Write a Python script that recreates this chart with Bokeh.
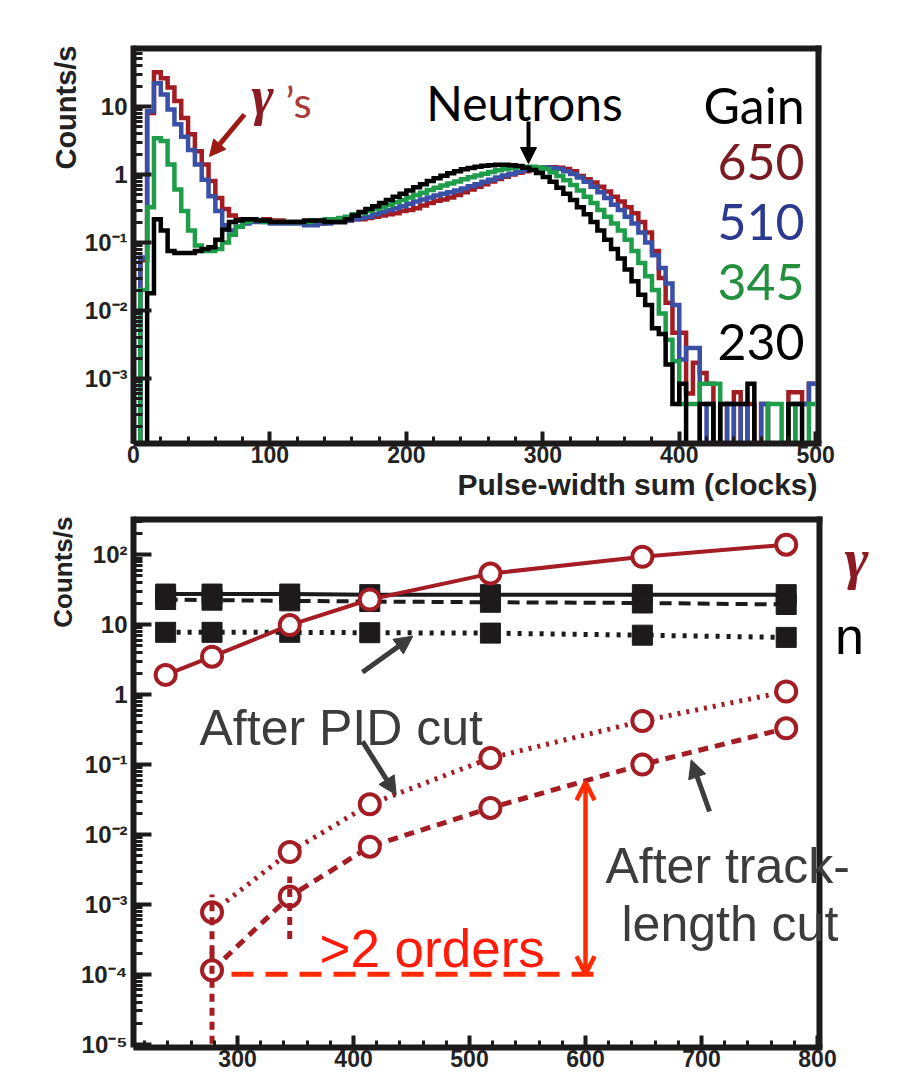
import numpy as np
from bokeh.plotting import figure
from bokeh.models import (Range1d, FixedTicker, SingleIntervalTicker, CustomJSTickFormatter,
                          Title, Arrow, NormalHead, OpenHead)
from bokeh.layouts import column
from bokeh.core.properties import value
from bokeh.embed import file_html
from bokeh.resources import INLINE

# ---------------- top panel data: pulse-width sum histograms (5-clock bins) ----------------
bin_width = 5
gains = ["650", "510", "345", "230"]
counts_650 = [0, 0.055, 8, 32, 26, 19, 12, 6.8, 3.9, 2.2,
              1.4, 0.8, 0.45, 0.31, 0.25, 0.22, 0.21, 0.21, 0.21, 0.22,
              0.21, 0.21, 0.2, 0.2, 0.2, 0.19, 0.19, 0.19, 0.2, 0.2,
              0.2, 0.21, 0.22, 0.22, 0.23, 0.24, 0.25, 0.26, 0.27, 0.29,
              0.3, 0.32, 0.35, 0.38, 0.41, 0.43, 0.46, 0.5, 0.55, 0.6,
              0.66, 0.72, 0.79, 0.86, 0.93, 1.0, 1.06, 1.12, 1.17, 1.22,
              1.26, 1.28, 1.26, 1.2, 1.12, 0.95, 0.85, 0.76, 0.66, 0.56,
              0.47, 0.4, 0.33, 0.27, 0.2, 0.14, 0.075, 0.03, 0.013, 0.0047,
              0.0047, 0.0006, 0.0017, 0.0012, 0.00084, 0, 0.00042, 0, 0.00063, 0,
              0.00042, 0, 0.00042, 0, 0, 0, 0.00063, 0.00063, 0.00042, 0.00084]
counts_510 = [0, 0.06, 8.5, 22, 15, 9, 5.5, 3.6, 2.3, 1.4,
              0.84, 0.48, 0.29, 0.18, 0.15, 0.17, 0.19, 0.2, 0.2, 0.2,
              0.19, 0.19, 0.19, 0.19, 0.19, 0.18, 0.18, 0.19, 0.19, 0.2,
              0.2, 0.21, 0.22, 0.23, 0.24, 0.26, 0.28, 0.3, 0.32, 0.34,
              0.37, 0.4, 0.43, 0.46, 0.49, 0.52, 0.55, 0.58, 0.62, 0.67,
              0.72, 0.78, 0.84, 0.9, 0.97, 1.03, 1.1, 1.16, 1.21, 1.25,
              1.27, 1.25, 1.2, 1.12, 1.02, 0.9, 0.78, 0.66, 0.55, 0.45,
              0.36, 0.3, 0.24, 0.19, 0.14, 0.1, 0.065, 0.042, 0.025, 0.012,
              0.0019, 0.0028, 0.0028, 0, 0.00042, 0, 0, 0.00042, 0, 0.00042,
              0, 0, 0.00042, 0, 0, 0, 0, 0.00042, 0.00042, 0.00084]
counts_345 = [0, 0.02, 0.33, 3.4, 3.1, 1.4, 0.6, 0.29, 0.15, 0.09,
              0.075, 0.075, 0.08, 0.1, 0.13, 0.17, 0.2, 0.21, 0.21, 0.2,
              0.2, 0.2, 0.2, 0.2, 0.2, 0.2, 0.21, 0.21, 0.22, 0.22,
              0.23, 0.24, 0.26, 0.27, 0.29, 0.31, 0.33, 0.36, 0.39, 0.42,
              0.46, 0.5, 0.54, 0.59, 0.64, 0.69, 0.74, 0.79, 0.85, 0.91,
              0.97, 1.03, 1.09, 1.15, 1.2, 1.25, 1.28, 1.3, 1.3, 1.27,
              1.2, 1.08, 0.95, 0.82, 0.7, 0.58, 0.47, 0.38, 0.3, 0.24,
              0.19, 0.15, 0.11, 0.075, 0.05, 0.032, 0.02, 0.009, 0.0037, 0.0018,
              0.00042, 0.00042, 0.00042, 0.00084, 0.00084, 0.00084, 0, 0, 0, 0,
              0, 0, 0, 0.00042, 0.00042, 0, 0.00042, 0, 0, 0.00042]
counts_230 = [0, 0, 0.018, 0.22, 0.15, 0.075, 0.07, 0.07, 0.07, 0.075,
              0.08, 0.085, 0.11, 0.155, 0.2, 0.21, 0.22, 0.22, 0.21, 0.21,
              0.2, 0.2, 0.2, 0.2, 0.2, 0.21, 0.21, 0.21, 0.2, 0.2,
              0.2, 0.22, 0.25, 0.28, 0.31, 0.34, 0.38, 0.42, 0.47, 0.52,
              0.58, 0.65, 0.72, 0.8, 0.88, 0.96, 1.04, 1.12, 1.19, 1.25,
              1.3, 1.34, 1.37, 1.39, 1.39, 1.37, 1.33, 1.26, 1.16, 1.05,
              0.92, 0.78, 0.64, 0.52, 0.42, 0.33, 0.26, 0.2, 0.15, 0.11,
              0.08, 0.058, 0.04, 0.027, 0.017, 0.012, 0.0055, 0.0045, 0.0016, 0.00042,
              0.00084, 0, 0, 0.00042, 0.00042, 0, 0.00042, 0.00042, 0.00042, 0.00042,
              0.00084, 0, 0, 0, 0, 0, 0.00042, 0.00042, 0, 0]
top_y_ticks = [1e-3, 1e-2, 1e-1, 1, 10]
top_y_labels = ["10\u207b\u00b3", "10\u207b\u00b2", "10\u207b\u00b9", "1", "10"]

# ---------------- bottom panel data: rates vs effective gas gain ----------------
eff_gain = [238, 278, 345, 414, 518, 649, 773]
gamma_all = [1.92, 3.5, 9.9, 23, 54, 94, 140]
gamma_pid = [7.7e-4, 5.6e-3, 0.027, 0.124, 0.42, 1.11]        # from 2nd gain point
gamma_track = [1.14e-4, 1.3e-3, 6.7e-3, 0.024, 0.1, 0.33]     # from 2nd gain point
neutron_all = [27.5, 27.5, 27.5, 27, 27, 27, 27]
neutron_track = [23, 22.5, 22, 21.5, 21, 20.5, 19.5]
neutron_pid = [7.8, 7.8, 7.8, 7.7, 7.6, 7.1, 6.6]
# error bars (gain, low, high); low 0 = off scale
err_pid = [(278, 2e-4, 1.38e-3)]
err_track = [(278, 0, 2.5e-4), (345, 3.2e-4, 2.5e-3)]
bot_y_ticks = [1e-5, 1e-4, 1e-3, 1e-2, 1e-1, 1, 10, 100]
bot_y_labels = ["10\u207b\u2075", "10\u207b\u2074", "10\u207b\u00b3", "10\u207b\u00b2",
                "10\u207b\u00b9", "1", "10", "10\u00b2"]

RED = "#a51d24"
HIST_COLORS = ["#a31c22", "#3a4fa6", "#1f9d4a", "#000000"]
TEXT_COLORS = ["#7a1a22", "#2b3a8f", "#24903f", "#000000"]
FRAME = "#1c1a1a"
GREY = "#3c3c3c"
ORANGE = "#ff2a00"
SANS = "Liberation Sans"

# plot areas reach the right edge; the visible box is drawn at *_FRAME
X1_MIN, X1_FRAME, X1_MAX = 0.0, 502.0, 559.2
Y1_MIN, Y1_MAX = 1.107e-4, 78.9
X2_MIN, X2_FRAME, X2_MAX = 210.3, 801.7, 868.1
Y2_MIN, Y2_MAX = 8.97e-6, 354


def log_formatter(vals, labels):
    return CustomJSTickFormatter(args=dict(vals=vals, labels=labels), code="""
        for (let i = 0; i < vals.length; i++) {
            if (Math.abs(Math.log10(tick) - Math.log10(vals[i])) < 1e-6) { return labels[i]; }
        }
        return "";
    """)


def minor_logs(kmin, kmax):
    return [m * 10.0 ** k for k in range(kmin, kmax + 1) for m in range(2, 10)]


def style(p, ylab_size, xmin, xframe, xpx, ymax):
    p.xgrid.visible = False
    p.ygrid.visible = False
    p.outline_line_color = None
    p.background_fill_color = "white"
    p.border_fill_color = "white"
    for ax in (p.xaxis[0], p.yaxis[0]):
        ax.axis_line_color = FRAME
        ax.major_tick_line_color = FRAME
        ax.minor_tick_line_color = FRAME
        ax.major_tick_out = 0
        ax.minor_tick_out = 0
        ax.major_label_text_font = SANS
        ax.major_label_text_font_style = "bold"
        ax.major_label_text_color = "#222222"
    p.xaxis.axis_line_width = 6
    p.yaxis.axis_line_width = 6
    p.xaxis.bounds = (xmin, xframe + 3 / xpx)
    p.xaxis.major_tick_in = 12
    p.xaxis.minor_tick_in = 7
    p.yaxis.major_tick_in = 18
    p.yaxis.minor_tick_in = 9
    p.xaxis.major_tick_line_width = 4
    p.xaxis.minor_tick_line_width = 3
    p.yaxis.major_tick_line_width = 4
    p.yaxis.minor_tick_line_width = 3
    p.xaxis.major_label_text_font_size = "23px"
    p.yaxis.major_label_text_font_size = "24px"
    p.xaxis.major_label_standoff = 2
    p.yaxis.major_label_standoff = 6
    p.add_layout(Title(text="Counts/s", align="right", text_font=SANS, text_font_style="bold",
                       text_font_size=ylab_size, text_color="#222222", standoff=0), "left")
    # top and right sides of the box
    p.segment(x0=[xmin, xframe], y0=[ymax, 1e-12], x1=[xframe + 3 / xpx, xframe],
              y1=[ymax, 1e6], line_color=FRAME, line_width=[12, 6])


# ================= top figure =================
p1 = figure(width=896, height=507, y_axis_type="log", x_range=Range1d(X1_MIN, X1_MAX),
            y_range=Range1d(Y1_MIN, Y1_MAX), output_backend="svg", toolbar_location=None,
            min_border_left=133, min_border_right=0, min_border_top=45, min_border_bottom=64)
style(p1, "29px", X1_MIN, X1_FRAME, 1.3645, Y1_MAX)
p1.xaxis.ticker = SingleIntervalTicker(interval=100, num_minor_ticks=5)
p1.yaxis.ticker = FixedTicker(ticks=top_y_ticks, minor_ticks=minor_logs(-4, 1))
p1.yaxis.formatter = log_formatter(top_y_ticks, top_y_labels)
p1.add_layout(Title(text="Pulse-width sum (clocks)", align="right", text_font=SANS,
                    text_font_style="bold", text_font_size="30px", text_color="#222222",
                    standoff=0, offset=79), "below")

edges = [bin_width * i for i in range(len(counts_650) + 1)]
for counts, col in zip([counts_650, counts_510, counts_345, counts_230], HIST_COLORS):
    ys = [c if c > 0 else 1e-9 for c in counts] + [counts[-1] if counts[-1] > 0 else 1e-9]
    p1.step(edges, ys, mode="after", line_color=col, line_width=4.5, line_join="miter")

# annotations top
p1.text(x=[94.5], y=[14.3], text=["\u03b3"], text_font=value("Liberation Serif"),
        text_font_style="bold italic", text_font_size="54px", text_color="#8b1a22",
        text_align="center", text_baseline="alphabetic")
p1.text(x=[111.4], y=[11.8], text=["\u2019s"], text_font=value("Lato"),
        text_font_size="42px", text_color="#a83a3a", text_align="left", text_baseline="alphabetic")
p1.add_layout(Arrow(end=NormalHead(size=16, fill_color="#9b1a12", line_color="#9b1a12"),
                    x_start=81.3, y_start=7.63, x_end=55.7, y_end=1.845,
                    line_color="#9b1a12", line_width=5))
p1.text(x=[286.6], y=[11.4], text=["Neutrons"], text_font=value("Lato"), text_font_size="48px",
        text_color="black", text_align="center", text_baseline="alphabetic")
p1.add_layout(Arrow(end=NormalHead(size=16, fill_color="black", line_color="black"),
                    x_start=289.5, y_start=6.02, x_end=289.5, y_end=1.45,
                    line_color="black", line_width=4))
p1.text(x=[491.8], y=[10.7], text=["Gain"], text_font=value("Lato"), text_font_size="50px",
        text_color="black", text_align="right", text_baseline="alphabetic")
for g, yv, col in zip(gains, [1.51, 0.2, 0.0265, 0.00348], TEXT_COLORS):
    p1.text(x=[491.8], y=[yv], text=[g], text_font=value("Lato"), text_font_size="50px",
            text_color=col, text_align="right", text_baseline="alphabetic")

# ================= bottom figure =================
p2 = figure(width=896, height=570, y_axis_type="log", x_range=Range1d(X2_MIN, X2_MAX),
            y_range=Range1d(Y2_MIN, Y2_MAX), output_backend="svg", toolbar_location=None,
            min_border_left=133, min_border_right=0, min_border_top=9, min_border_bottom=30)
style(p2, "26px", X2_MIN, X2_FRAME, 1.16, Y2_MAX)
p2.xaxis.ticker = SingleIntervalTicker(interval=100, num_minor_ticks=5)
p2.yaxis.ticker = FixedTicker(ticks=bot_y_ticks, minor_ticks=minor_logs(-6, 2))
p2.yaxis.formatter = log_formatter(bot_y_ticks, bot_y_labels)

# neutrons
p2.line(eff_gain, neutron_all, line_color=FRAME, line_width=4)
p2.line(eff_gain, neutron_track, line_color=FRAME, line_width=4, line_dash="12 7")
p2.line(eff_gain, neutron_pid, line_color=FRAME, line_width=5, line_dash="4 7")
for ser in (neutron_all, neutron_track, neutron_pid):
    p2.scatter(eff_gain, ser, marker="square", size=20, fill_color=FRAME, line_color=FRAME)

# gammas
p2.line(eff_gain, gamma_all, line_color=RED, line_width=4)
p2.line(eff_gain[1:], gamma_pid, line_color=RED, line_width=5, line_dash="3 6")
p2.line(eff_gain[1:], gamma_track, line_color=RED, line_width=5, line_dash="10 7")
for xs, ser in ((eff_gain, gamma_all), (eff_gain[1:], gamma_pid), (eff_gain[1:], gamma_track)):
    p2.scatter(xs, ser, marker="circle", size=20, fill_color="white",
               line_color=RED, line_width=4)
errs = err_pid + err_track
p2.segment(x0=[e[0] for e in errs], y0=[e[1] if e[1] > 0 else 1e-9 for e in errs],
           x1=[e[0] for e in errs], y1=[e[2] for e in errs],
           line_color=RED, line_width=5, line_dash="8 6")

# annotations bottom
p2.segment(x0=[294.8], y0=[1e-4], x1=[614.6], y1=[1e-4], line_color=ORANGE, line_width=5,
           line_dash="22 12")
p2.add_layout(Arrow(start=OpenHead(size=18, line_color=ORANGE, line_width=4.5),
                    end=OpenHead(size=18, line_color=ORANGE, line_width=4.5),
                    x_start=600, y_start=1e-4, x_end=600, y_end=0.056,
                    line_color=ORANGE, line_width=4.5))
p2.text(x=[370.6], y=[2.36e-4], text=[">2 orders"], text_font=value(SANS), text_font_size="53px",
        text_color="#ff1a0a", text_align="left", text_baseline="alphabetic")
p2.text(x=[267.2], y=[0.3285], text=["After PID cut"], text_font=value(SANS),
        text_font_size="50px", text_color=GREY, text_align="left", text_baseline="alphabetic")
p2.text(x=[617.2, 631], y=[3.6e-3, 5.2e-4], text=["After track-", "length cut"],
        text_font=value(SANS), text_font_size="50px", text_color=GREY,
        text_align="left", text_baseline="alphabetic")
for xs, ys, xe, ye in [(407.7, 2.09, 451.1, 6.88), (407.7, 0.215, 436.8, 0.0369),
                       (706.9, 0.0213, 691.1, 0.117)]:
    p2.add_layout(Arrow(end=NormalHead(size=18, fill_color=GREY, line_color=GREY),
                        x_start=xs, y_start=ys, x_end=xe, y_end=ye,
                        line_color=GREY, line_width=5))
p2.text(x=[833.6], y=[88.8], text=["\u03b3"], text_font=value("Liberation Serif"),
        text_font_style="bold italic", text_font_size="58px", text_color="#8b1a22",
        text_align="center", text_baseline="alphabetic")
p2.text(x=[827.5], y=[6.8], text=["n"], text_font=value(SANS), text_font_size="52px",
        text_color="black", text_align="center", text_baseline="alphabetic")

layout = column(p1, p2, spacing=0)
open("out.html", "w").write(file_html(layout, INLINE))
